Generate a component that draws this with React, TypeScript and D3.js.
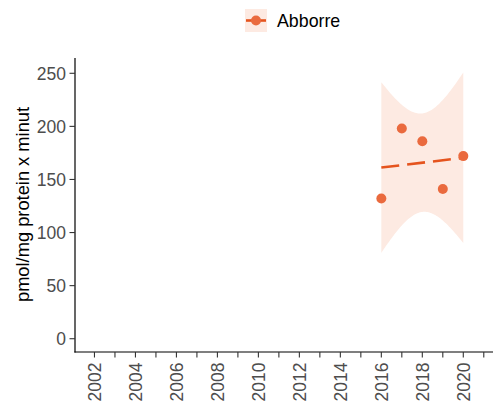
import React from "react";
import * as d3 from "d3";

const years = [2016, 2017, 2018, 2019, 2020];
const values = [132, 198, 186, 141, 172];
const yTicks = [0, 50, 100, 150, 200, 250];
const xMinorTicks = d3.range(2002, 2022);
const xLabels = [2002, 2004, 2006, 2008, 2010, 2012, 2014, 2016, 2018, 2020];
const seriesName = "Abborre";
const yTitle = "pmol/mg protein x minut";

const W = 496, H = 403;
const tCrit = 3.182; // t(0.975, df=3)

export default function App() {
  const x = d3.scaleLinear().domain([2001.05, 2021.45]).range([75, 493]);
  const y = d3.scaleLinear().domain([-12.5, 264.4]).range([352, 58]);

  const n = years.length;
  const mx = d3.mean(years)!;
  const my = d3.mean(values)!;
  const sxx = d3.sum(years, (v) => (v - mx) ** 2);
  const sxy = d3.sum(years.map((v, i) => (v - mx) * (values[i] - my)));
  const b = sxy / sxx;
  const a = my - b * mx;
  const sse = d3.sum(years.map((v, i) => (values[i] - (a + b * v)) ** 2));
  const s = Math.sqrt(sse / (n - 2));
  const grid = d3.range(0, 81).map((i) => 2016 + (i * 4) / 80);
  const band = grid.map((g) => {
    const fit = a + b * g;
    const hw = tCrit * s * Math.sqrt(1 / n + (g - mx) ** 2 / sxx);
    return { g, lo: fit - hw, hi: fit + hw };
  });
  const area = d3
    .area<{ g: number; lo: number; hi: number }>()
    .x((d) => x(d.g))
    .y0((d) => y(d.lo))
    .y1((d) => y(d.hi));
  const line = d3
    .line<number>()
    .x((d) => x(d))
    .y((d) => y(a + b * d));

  const pointColor = "#EA6A3E";
  const lineColor = "#E5541E";
  const bandColor = "#FDEAE2";
  const font = "Liberation Sans, Arial, sans-serif";

  return (
    <svg width={W} height={H} style={{ position: "absolute", left: 0, top: 0 }} fontFamily={font}>
      <rect width={W} height={H} fill="#fff" />
      <path d={area(band)!} fill={bandColor} />
      <path
        d={line([2016, 2020])!}
        fill="none"
        stroke={lineColor}
        strokeWidth={2.6}
        strokeDasharray="18 8"
      />
      {years.map((yr, i) => (
        <circle key={yr} cx={x(yr)} cy={y(values[i])} r={5} fill={pointColor} />
      ))}
      {/* axes */}
      <line x1={75} x2={75} y1={58} y2={352.6} stroke="#000" strokeWidth={1.2} />
      <line x1={74.4} x2={493} y1={352} y2={352} stroke="#000" strokeWidth={1.2} />
      {yTicks.map((t) => (
        <g key={t}>
          <line x1={69.5} x2={75} y1={y(t)} y2={y(t)} stroke="#333" strokeWidth={1.1} />
          <text x={66} y={y(t)} dy="0.36em" textAnchor="end" fontSize={17.5} fill="#4d4d4d">
            {t}
          </text>
        </g>
      ))}
      {xMinorTicks.map((t) => (
        <line key={t} x1={x(t)} x2={x(t)} y1={352} y2={357.5} stroke="#333" strokeWidth={1.1} />
      ))}
      {xLabels.map((t) => (
        <text
          key={t}
          transform={`translate(${x(t)},362.5) rotate(-90)`}
          dy="0.36em"
          textAnchor="end"
          fontSize={17.5}
          fill="#4d4d4d"
        >
          {t}
        </text>
      ))}
      <text
        transform={`translate(28.5,204.5) rotate(-90)`}
        textAnchor="middle"
        fontSize={18.3}
        fill="#000"
      >
        {yTitle}
      </text>
      {/* legend */}
      <rect x={245} y={9} width={22} height={23} fill={bandColor} />
      <line x1={246} x2={266} y1={20.5} y2={20.5} stroke={lineColor} strokeWidth={2.6} />
      <circle cx={256} cy={20.5} r={5} fill={pointColor} />
      <text x={277} y={27} fontSize={17.8} fill="#000">
        {seriesName}
      </text>
    </svg>
  );
}
